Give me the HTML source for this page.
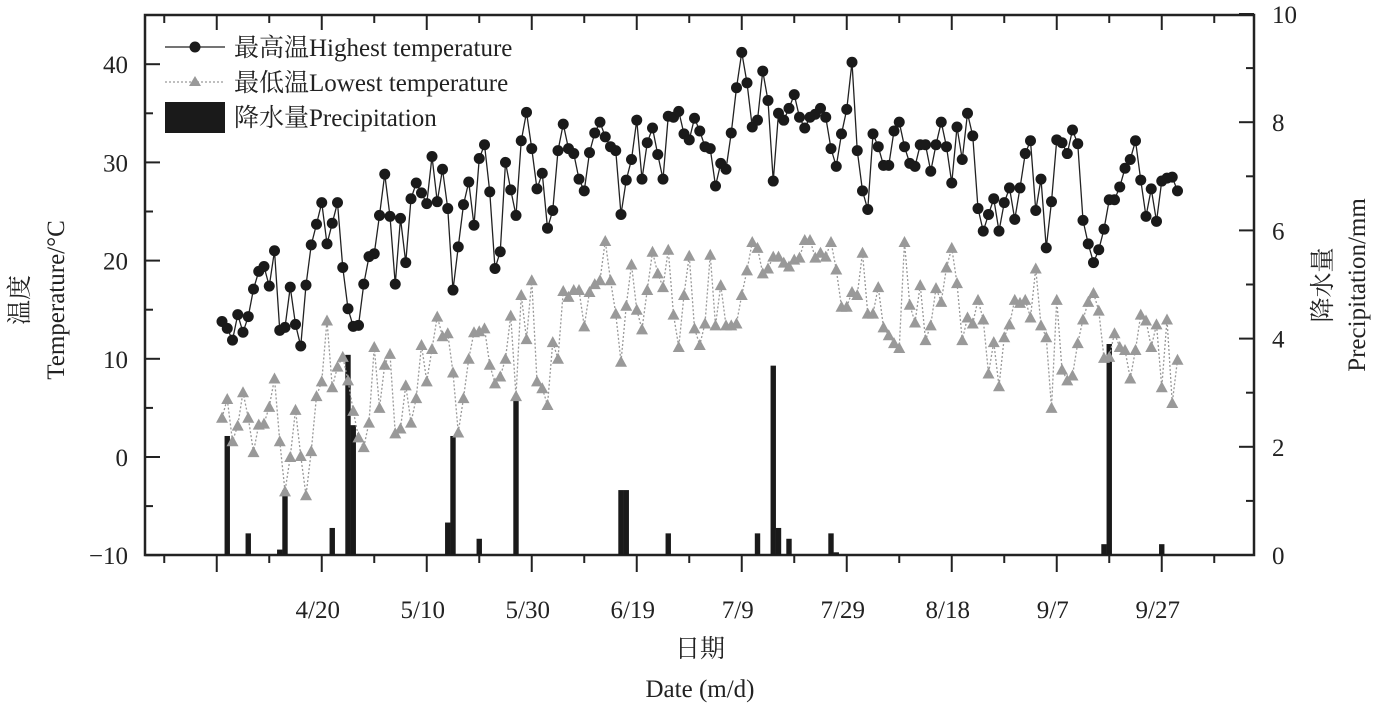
<!DOCTYPE html>
<html><head><meta charset="utf-8">
<style>
html,body{margin:0;padding:0;background:#fff;}
svg{display:block;font-family:"Liberation Serif","Noto Serif CJK SC",serif;}
</style></head>
<body>
<svg id="chart" width="1377" height="708" viewBox="0 0 1377 708">
<g id="axes"></g>
<g id="bars"></g>
<g id="lows"></g>
<g id="highs"></g>
<g id="legend">
  <g>
    <line x1="165" y1="47" x2="225" y2="47" stroke="#222" stroke-width="1.3"/>
    <circle cx="195" cy="47" r="5.5" fill="#1a1a1a"/>
    <text x="234" y="56" font-size="25" fill="#222">最高温Highest temperature</text>
  </g>
  <g>
    <line x1="165" y1="82" x2="225" y2="82" stroke="#999" stroke-width="1.3" stroke-dasharray="2,2"/>
    <polygon points="195,76 201,86 189,86" fill="#999"/>
    <text x="234" y="91" font-size="25" fill="#222">最低温Lowest temperature</text>
  </g>
  <g>
    <rect x="165" y="102" width="60" height="31" fill="#1a1a1a"/>
    <text x="234" y="126" font-size="25" fill="#222">降水量Precipitation</text>
  </g>
</g>
<g>
  <text transform="translate(28,300) rotate(-90)" text-anchor="middle" font-size="25" fill="#222">温度</text>
  <text transform="translate(64,300) rotate(-90)" text-anchor="middle" font-size="25" fill="#222">Temperature/°C</text>
</g>
<g>
  <text transform="translate(1331,285) rotate(-90)" text-anchor="middle" font-size="25" fill="#222">降水量</text>
  <text transform="translate(1365,285) rotate(-90)" text-anchor="middle" font-size="25" fill="#222">Precipitation/mm</text>
</g>
<text x="700" y="657" text-anchor="middle" font-size="25" fill="#222">日期</text>
<text x="700" y="697" text-anchor="middle" font-size="25" fill="#222">Date (m/d)</text>
</svg>
<script>
const highTemps = [13.8,13.1,11.9,14.5,12.7,14.3,17.1,18.9,19.4,17.4,
21.0,12.9,13.2,17.3,13.5,11.3,17.5,21.6,23.7,25.9,
21.7,23.8,25.9,19.3,15.1,13.3,13.4,17.6,20.4,20.7,
24.6,28.8,24.5,17.6,24.3,19.8,26.3,27.9,26.9,25.8,
30.6,26.0,29.3,25.3,17.0,21.4,25.7,28.0,23.6,30.4,
31.8,27.0,19.2,20.9,30.0,27.2,24.6,32.2,35.1,31.4,
27.3,28.9,23.3,25.1,31.2,33.9,31.4,30.9,28.3,27.1,
31.0,33.0,34.1,32.6,31.6,31.2,24.7,28.2,30.3,34.3,
28.3,32.0,33.5,30.8,28.3,34.7,34.6,35.2,32.9,32.3,
34.5,33.2,31.6,31.4,27.6,29.9,29.3,33.0,37.6,41.2,
38.1,33.6,34.3,39.3,36.3,28.1,35.0,34.3,35.5,36.9,
34.6,33.5,34.6,34.9,35.5,34.6,31.4,29.6,32.9,35.4,
40.2,31.2,27.1,25.2,32.9,31.6,29.7,29.7,33.2,34.1,
31.6,29.9,29.6,31.8,31.8,29.1,31.8,34.1,31.6,27.9,
33.6,30.3,35.0,32.7,25.3,23.0,24.7,26.3,23.0,25.9,
27.4,24.2,27.4,30.9,32.2,25.1,28.3,21.3,26.0,32.3,
32.0,30.9,33.3,31.9,24.1,21.7,19.8,21.1,23.2,26.2,
26.2,27.5,29.4,30.3,32.2,28.2,24.5,27.3,24.0,28.1,
28.4,28.5,27.1];
const lowTemps = [4.0,5.9,1.6,3.2,6.6,4.0,0.5,3.3,3.4,5.1,
8.0,1.6,-3.5,0,4.8,0.1,-3.9,0.6,6.2,7.7,
13.9,7.1,9.2,10.2,7.8,4.7,2.0,1.0,3.5,11.2,
5.0,9.4,10.5,2.4,2.9,7.3,3.5,6.0,11.4,7.7,
11.0,14.3,12.3,12.6,8.6,2.5,6.0,10.0,12.7,12.8,
13.1,9.4,7.5,8.2,10.0,14.4,6.2,16.5,12.0,18.0,
7.7,7.0,5.3,11.7,10.0,16.9,16.3,17.0,17.0,13.3,
16.8,17.6,18.0,22.0,18.0,14.6,9.7,15.4,19.6,15.0,
13.0,17.0,20.9,18.7,17.3,21.1,14.5,11.2,16.5,20.5,
13.1,11.4,13.6,20.6,13.4,17.5,13.4,13.4,13.6,16.5,
19.0,21.9,21.3,18.7,19.2,20.4,20.4,19.8,19.4,20.1,
20.3,22.1,22.1,20.3,20.8,20.4,21.9,19.1,15.3,15.3,
16.8,16.5,20.8,14.6,14.6,17.3,13.2,12.4,11.6,11.1,
21.9,15.5,13.7,17.5,11.9,13.4,17.2,15.8,
19.3,21.3,17.7,11.9,14.2,13.6,16.0,14.0,8.5,11.7,
7.2,12.2,13.5,16.0,15.7,16.0,14.2,19.2,13.4,12.2,
5.0,16.0,8.9,7.8,8.3,11.6,14.0,15.8,16.7,14.9,
10.1,10.2,12.6,11.2,10.9,8.0,10.9,14.5,13.9,11.2,
13.5,7.1,14.0,5.5,9.9];
const precipDays = [1,5,11,12,21,24,25,43,44,49,56,76,77,85,102,105,106,108,116,117,168,169,179];
const precipValues = [2.2,0.4,0.1,1.2,0.5,3.7,2.4,0.6,2.2,0.3,2.9,1.2,1.2,0.4,0.4,3.5,0.5,0.3,0.4,0.05,0.2,3.9,0.2];
const leftTicks = [-10,0,10,20,30,40];
const rightTicks = [0,2,4,6,8,10];
const xTickLabels = ["4/20","5/10","5/30","6/19","7/9","7/29","8/18","9/7","9/27"];

const NS="http://www.w3.org/2000/svg";
const L=145,R=1254,T=15,B=555;
const xDay=d=>222+5.25*d;
const yT=v=>457-9.82*v;
const yP=v=>555-54.1*v;
function mk(tag,attrs,parent){const e=document.createElementNS(NS,tag);for(const k in attrs)e.setAttribute(k,attrs[k]);parent.appendChild(e);return e;}
const axes=document.getElementById('axes');
const frame=mk('rect',{x:L,y:T,width:R-L,height:B-T,fill:'none',stroke:'#222','stroke-width':2.5},axes);


// left ticks
for(let v=-10;v<=40;v+=5){
  const major=v%10===0;
  const t=mk('line',{x1:L,x2:L+(major?15:8),y1:yT(v),y2:yT(v),stroke:'#222','stroke-width':2},axes);
  
  
}
leftTicks.forEach(v=>{
  const t=mk('text',{x:128,y:yT(v)+9,'text-anchor':'end','font-size':25,fill:'#222'},axes);
  t.textContent=v<0?'\u2212'+Math.abs(v):String(v);
  
  
});
for(let v=0;v<=10;v+=1){
  const major=v%2===0;
  const t=mk('line',{x1:R,x2:R-(major?15:8),y1:yP(v),y2:yP(v),stroke:'#222','stroke-width':2},axes);
  
  
}
rightTicks.forEach(v=>{
  const t=mk('text',{x:1272,y:yP(v)+9,'font-size':25,fill:'#222'},axes);
  t.textContent=String(v);
  
  
});
// x ticks every 10 days from 3/21 (d=-11)... majors every 20 days from 3/31 (d=-1)
for(let k=-1;k<=21;k++){
  const d=-11+10*k;
  const x=xDay(d);
  if(x<L+5||x>R-5)continue;
  const major=((d+1)%20===0);
  const tb=mk('line',{x1:x,x2:x,y1:B,y2:B+(major?17:8),stroke:'#222','stroke-width':2},axes);
  
  
  const tt=mk('line',{x1:x,x2:x,y1:T,y2:T+(major?15:8),stroke:'#222','stroke-width':2},axes);
  
  
}
xTickLabels.forEach((lab,i)=>{
  const d=19+20*i;
  const t=mk('text',{x:xDay(d)-4,y:618,'text-anchor':'middle','font-size':25,fill:'#222'},axes);
  t.textContent=lab;
  
  
});
// bars
const bars=document.getElementById('bars');
precipDays.forEach((d,i)=>{
  const y=yP(precipValues[i]);
  const b=mk('rect',{x:xDay(d)-2.7,y:y,width:5.4,height:B-y,fill:'#1a1a1a'},bars);
  
  
});
// lows
const lows=document.getElementById('lows');
const lp=mk('polyline',{points:lowTemps.map((v,i)=>xDay(i)+','+yT(v)).join(' '),fill:'none',stroke:'#999','stroke-width':1.3,'stroke-dasharray':'2,2'},lows);


lowTemps.forEach((v,i)=>{
  const x=xDay(i),y=yT(v);
  const p=mk('polygon',{points:`${x},${y-6} ${x+6},${y+5} ${x-6},${y+5}`,fill:'#999'},lows);
  
  
});
// highs
const highs=document.getElementById('highs');
const hp=mk('polyline',{points:highTemps.map((v,i)=>xDay(i)+','+yT(v)).join(' '),fill:'none',stroke:'#222','stroke-width':1.3},highs);


highTemps.forEach((v,i)=>{
  const c=mk('circle',{cx:xDay(i),cy:yT(v),r:5.5,fill:'#1a1a1a'},highs);
  
  
});
</script>
</body></html>
